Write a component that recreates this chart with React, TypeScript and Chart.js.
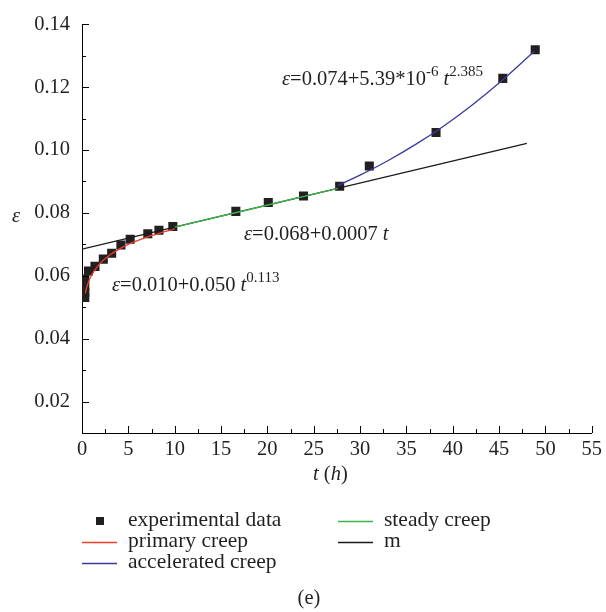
import { useEffect, useRef } from 'react';
import { Chart, registerables } from 'chart.js';

Chart.register(...registerables);

const FONT = '"Liberation Serif", "Times New Roman", Times, serif';
const TEXT = '#231f20';

// Tick labels
const xTickValues = [0, 5, 10, 15, 20, 25, 30, 35, 40, 45, 50, 55];
const xMinorValues = [2.5, 7.5, 12.5, 17.5, 22.5, 27.5, 32.5, 37.5, 42.5, 47.5, 52.5];
const yTickValues = [0.02, 0.04, 0.06, 0.08, 0.1, 0.12, 0.14];
const yMinorValues = [0.03, 0.05, 0.07, 0.09, 0.11, 0.13];

// Experimental data
const expT = [0.3, 0.3, 0.3, 0.3, 0.7, 1.4, 2.3, 3.2, 4.2, 5.2, 7.1, 8.3, 9.8, 16.6, 20.1, 23.9, 27.8, 31.0, 38.2, 45.4, 48.9];
const expEps = [0.0531, 0.0548, 0.0565, 0.059, 0.0615, 0.063, 0.0653, 0.0672, 0.0698, 0.0716, 0.0734, 0.0745, 0.0757, 0.0805, 0.0833, 0.0854, 0.0885, 0.0949, 0.1056, 0.1228, 0.1319];

// Primary creep curve
const primaryT = [0.35, 0.5, 0.75, 1, 1.5, 2, 3, 4, 5, 6, 7, 8, 9, 10];
const primaryEps = [0.0544, 0.0562, 0.0584, 0.06, 0.0623, 0.0641, 0.0666, 0.0685, 0.07, 0.0712, 0.0723, 0.0732, 0.0741, 0.0749];

// Steady creep
const steadyT = [10, 27.6];
const steadyEps = [0.0755, 0.0878];

// Accelerated creep
const accelT = [27.6, 30, 33, 36, 39, 42, 45, 48.8];
const accelEps = [0.0887, 0.092, 0.0966, 0.1018, 0.1076, 0.1141, 0.1213, 0.1314];

// m line
const mT = [0, 48];
const mEps = [0.0685, 0.1021];

const seriesNames = ['experimental data', 'primary creep', 'accelerated creep', 'steady creep', 'm'];
const seriesColors = ['#231f20', '#e8412b', '#3a3a9c', '#3cb54b', '#1a1a1a'];

const pts = (xs: number[], ys: number[]) => xs.map((x, i) => ({ x, y: ys[i] }));

type Part = { t: string; it?: boolean; sup?: boolean };

function drawRich(ctx: CanvasRenderingContext2D, x: number, y: number, parts: Part[], size = 20.5) {
  let cx = x;
  for (const p of parts) {
    const fs = p.sup ? 15 : size;
    ctx.font = `${p.it ? 'italic ' : ''}${fs}px ${FONT}`;
    const dy = p.sup ? -9 : 0;
    ctx.fillText(p.t, cx, y + dy);
    cx += ctx.measureText(p.t).width;
  }
}

const decorPlugin = {
  id: 'decor',
  afterDatasetsDraw(chart: any) {
    const ctx: CanvasRenderingContext2D = chart.ctx;
    const xs = chart.scales.x;
    const ys = chart.scales.y;
    const { left, bottom } = chart.chartArea;
    ctx.save();
    ctx.strokeStyle = '#000';
    ctx.lineWidth = 1;
    ctx.beginPath();
    const vx = (v: number, len: number) => {
      const px = Math.round(xs.getPixelForValue(v)) + 0.5;
      ctx.moveTo(px, bottom);
      ctx.lineTo(px, bottom - len);
    };
    const vy = (v: number, len: number) => {
      const py = Math.round(ys.getPixelForValue(v)) + 0.5;
      ctx.moveTo(left, py);
      ctx.lineTo(left + len, py);
    };
    xTickValues.forEach((v) => vx(v, 7));
    xMinorValues.forEach((v) => vx(v, 4));
    yTickValues.forEach((v) => vy(v, 7));
    yMinorValues.forEach((v) => vy(v, 4));
    ctx.stroke();
    ctx.restore();
  },
  afterDraw(chart: any) {
    const ctx: CanvasRenderingContext2D = chart.ctx;
    ctx.save();
    ctx.fillStyle = TEXT;
    ctx.textBaseline = 'alphabetic';
    ctx.textAlign = 'left';

    // Equations
    drawRich(ctx, 282, 85, [
      { t: 'ε', it: true },
      { t: '=0.074+5.39*10' },
      { t: '-6', sup: true },
      { t: ' ' },
      { t: 't', it: true },
      { t: '2.385', sup: true },
    ]);
    drawRich(ctx, 244, 240, [
      { t: 'ε', it: true },
      { t: '=0.068+0.0007 ' },
      { t: 't', it: true },
    ]);
    drawRich(ctx, 112, 291, [
      { t: 'ε', it: true },
      { t: '=0.010+0.050 ' },
      { t: 't', it: true },
      { t: '0.113', sup: true },
    ]);

    // Axis titles
    drawRich(ctx, 313, 480, [
      { t: 't', it: true },
      { t: ' (' },
      { t: 'h', it: true },
      { t: ')' },
    ]);
    drawRich(ctx, 12, 222, [{ t: 'ε', it: true }]);

    // Legend
    const rows = [
      { x: 82, y: 521, i: 0 },
      { x: 82, y: 542, i: 1 },
      { x: 82, y: 563, i: 2 },
      { x: 338, y: 521, i: 3 },
      { x: 338, y: 542, i: 4 },
    ];
    ctx.font = `21.5px ${FONT}`;
    for (const r of rows) {
      ctx.fillStyle = seriesColors[r.i];
      ctx.strokeStyle = seriesColors[r.i];
      if (r.i === 0) {
        ctx.fillRect(r.x + 14, r.y - 4, 8, 8);
      } else {
        ctx.lineWidth = 1.3;
        ctx.beginPath();
        ctx.moveTo(r.x, r.y + 0.5);
        ctx.lineTo(r.x + 35, r.y + 0.5);
        ctx.stroke();
      }
      ctx.fillStyle = TEXT;
      ctx.fillText(seriesNames[r.i], r.x + 46, r.y + 4.5);
    }

    // Caption
    ctx.font = `20.5px ${FONT}`;
    ctx.textAlign = 'center';
    ctx.fillText('(e)', 309, 604);
    ctx.restore();
  },
};

export default function App() {
  const ref = useRef<HTMLCanvasElement>(null);
  useEffect(() => {
    const canvas = ref.current!;
    const lineDs = (label: string, xs: number[], ys: number[], color: string, order: number) => ({
      label,
      data: pts(xs, ys),
      showLine: true,
      borderColor: color,
      backgroundColor: color,
      borderWidth: 1.3,
      pointRadius: 0,
      cubicInterpolationMode: 'monotone' as const,
      order,
    });
    const chart = new Chart(canvas, {
      type: 'scatter',
      data: {
        datasets: [
          {
            label: seriesNames[0],
            data: pts(expT, expEps),
            pointStyle: 'rect',
            pointRadius: 6.4,
            pointBackgroundColor: seriesColors[0],
            pointBorderWidth: 0,
            showLine: false,
            order: 10,
          },
          lineDs(seriesNames[4], mT, mEps, seriesColors[4], 5),
          lineDs(seriesNames[1], primaryT, primaryEps, seriesColors[1], 2),
          lineDs(seriesNames[3], steadyT, steadyEps, seriesColors[3], 3),
          lineDs(seriesNames[2], accelT, accelEps, seriesColors[2], 1),
        ] as any,
      },
      options: {
        responsive: false,
        animation: false,
        devicePixelRatio: 1,
        layout: { padding: { left: 0, right: 13, top: 18, bottom: 0 } },
        plugins: { legend: { display: false }, tooltip: { enabled: false } },
        scales: {
          x: {
            type: 'linear',
            min: 0,
            max: 55,
            afterFit: (s: any) => {
              s.height = 179;
            },
            afterBuildTicks: (s: any) => {
              s.ticks = xTickValues.map((value) => ({ value }));
            },
            grid: { display: true, drawOnChartArea: false, drawTicks: false },
            border: { display: true, color: '#000', width: 1 },
            ticks: {
              font: { family: FONT, size: 20.5 },
              color: TEXT,
              padding: 4,
              maxRotation: 0,
              autoSkip: false,
            },
          },
          y: {
            type: 'linear',
            min: 0.01,
            max: 0.14,
            afterFit: (s: any) => {
              s.width = 82;
            },
            afterBuildTicks: (s: any) => {
              s.ticks = yTickValues.map((value) => ({ value }));
            },
            grid: { display: true, drawOnChartArea: false, drawTicks: false },
            border: { display: true, color: '#000', width: 1 },
            ticks: {
              font: { family: FONT, size: 20.5 },
              color: TEXT,
              padding: 12,
              autoSkip: false,
              callback: (v: any) => Number(v).toFixed(2),
            },
          },
        },
      },
      plugins: [decorPlugin],
    });
    return () => chart.destroy();
  }, []);
  return (
    <div style={{ position: 'fixed', left: 0, top: 0, width: 606, height: 612, background: '#fff' }}>
      <canvas ref={ref} width={606} height={612} style={{ display: 'block', width: 606, height: 612 }} />
    </div>
  );
}
